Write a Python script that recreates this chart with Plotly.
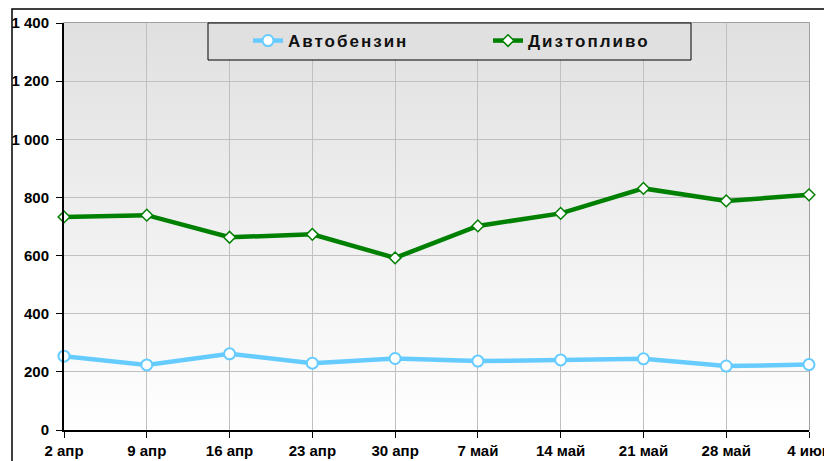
import base64
import plotly.graph_objects as go

categories = ["2 апр", "9 апр", "16 апр", "23 апр", "30 апр",
              "7 май", "14 май", "21 май", "28 май", "4 июн"]
benzin = [254, 224, 262, 230, 246, 237, 241, 245, 220, 225]
diesel = [733, 739, 663, 673, 592, 702, 745, 831, 788, 809]
series_names = ["Автобензин", "Дизтопливо"]
y_ticks = [0, 200, 400, 600, 800, 1000, 1200, 1400]

FONT = "Liberation Sans, Arial, sans-serif"

# page body has an 8px default margin; compensate so the plot lands where the reference has it
L, R, T, B = 56, 31, 15, 39
PW, PH = 832 - L - R, 461 - T - B  # 745 x 407


def px_x(x):  # window x pixel -> paper x
    return (x - 64) / PW


def px_y(y):  # window y pixel -> paper y
    return (430 - y) / PH


svg = ('<svg xmlns="http://www.w3.org/2000/svg" width="10" height="100" preserveAspectRatio="none">'
       '<defs><linearGradient id="g" x1="0" y1="0" x2="0" y2="1">'
       '<stop offset="0" stop-color="#e0e0e0"/><stop offset="1" stop-color="#ffffff"/>'
       '</linearGradient></defs><rect width="10" height="100" fill="url(#g)"/></svg>')
bg_src = "data:image/svg+xml;base64," + base64.b64encode(svg.encode()).decode()

fig = go.Figure()
fig.add_trace(go.Scatter(
    x=categories, y=benzin, mode="lines+markers",
    name='<span style="letter-spacing:2px">' + series_names[0] + '</span>',
    line=dict(color="#66ccff", width=4.5),
    marker=dict(symbol="circle", size=11, color="white",
                line=dict(color="#66ccff", width=2)),
    cliponaxis=False,
))
fig.add_trace(go.Scatter(
    x=categories, y=diesel, mode="lines+markers",
    name='<span style="letter-spacing:2px">' + series_names[1] + '</span>',
    line=dict(color="#008000", width=4.5),
    marker=dict(symbol="diamond", size=9, color="white",
                line=dict(color="#008000", width=1.5)),
    cliponaxis=False,
))

fig.update_layout(
    width=832, height=461,
    margin=dict(l=L, r=R, t=T, b=B),
    paper_bgcolor="white",
    plot_bgcolor="rgba(0,0,0,0)",
    separators=", ",
    font=dict(family=FONT, size=14, color="black", weight="bold"),
    showlegend=True,
    legend=dict(
        orientation="h", x=px_x(248), xanchor="left", y=1, yanchor="top",
        bgcolor="rgba(0,0,0,0)", borderwidth=0,
        entrywidth=195, entrywidthmode="pixels",
        font=dict(family=FONT, size=17, color="#111111", weight="bold"),
    ),
    xaxis=dict(
        type="category", range=[0, len(categories) - 1], automargin=False,
        showgrid=True, gridcolor="#c0c0c0", gridwidth=1,
        showline=True, linecolor="black", linewidth=1.5,
        ticks="outside", ticklen=6, tickcolor="black",
        tickfont=dict(family=FONT, size=15, color="black", weight="bold"),
        fixedrange=True,
    ),
    yaxis=dict(
        range=[0, 1400], tickvals=y_ticks, separatethousands=True, automargin=False,
        showgrid=True, gridcolor="#c0c0c0", gridwidth=1, zeroline=False,
        showline=True, linecolor="black", linewidth=2,
        ticks="outside", ticklen=6, tickcolor="black",
        ticklabelstandoff=4,
        tickfont=dict(family=FONT, size=15, color="black", weight="bold"),
        fixedrange=True,
    ),
    images=[dict(source=bg_src, xref="x domain", yref="y domain",
                 x=0, y=1, sizex=1, sizey=1, xanchor="left", yanchor="top",
                 sizing="stretch", layer="below")],
    shapes=[
        dict(type="rect", xref="x domain", yref="y domain", x0=0, x1=1, y0=0, y1=1,
             line=dict(color="#808080", width=1.5), layer="below"),
        dict(type="rect", xref="paper", yref="paper", x0=px_x(12), x1=1.2,
             y0=-0.3, y1=px_y(9), line=dict(color="black", width=1.5), layer="below"),
        # legend frame
        dict(type="rect", xref="paper", yref="paper", x0=px_x(208), x1=px_x(691),
             y0=px_y(60), y1=1, fillcolor="#e0e0e0",
             line=dict(color="black", width=1), layer="above"),
    ],
)

fig.write_html("out.html")
